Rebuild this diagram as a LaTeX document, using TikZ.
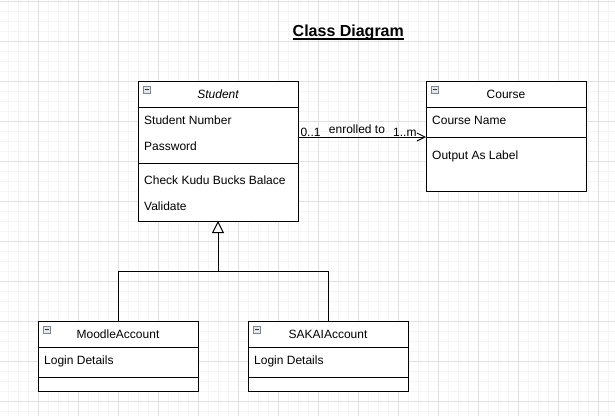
\documentclass[tikz,border=0pt]{standalone}
\usepackage{fontspec}
\setmainfont{Liberation Sans}
\usetikzlibrary{arrows.meta}

\definecolor{gridmajor}{HTML}{E0E0E0}
\definecolor{gridminor}{HTML}{F5F5F5}
\definecolor{iconedge}{HTML}{7D8791}
\definecolor{iconfill}{HTML}{E4E7EA}

\begin{document}
\begin{tikzpicture}[x=1pt, y=-1pt,
    classbox/.style={draw, line width=1pt, fill=white, anchor=north west,
      minimum width=160pt, inner sep=0pt, outer sep=0pt},
    classname/.style={font=\fontsize{12}{14}\selectfont, inner sep=0pt, anchor=base},
    member/.style={font=\fontsize{12}{14}\selectfont, inner sep=0pt, anchor=base west},
    mult/.style={font=\fontsize{12}{14}\selectfont, inner sep=0pt},
    collapse/.style={draw=iconedge, fill=iconfill, line width=0.6pt, minimum size=7pt,
      inner sep=0pt, anchor=north west,
      path picture={\draw[line width=1pt, black!80]
        ([xshift=1.5pt]path picture bounding box.west) --
        ([xshift=-1.5pt]path picture bounding box.east);}},
    divider/.style={line width=1pt},
    assoc/.style={line width=1pt, -{Straight Barb[length=8pt, width=8pt]}},
    inherit/.style={line width=1pt, -{Triangle[open, fill=white, length=12pt, width=12pt]}}]

  \newcommand\rowh{26pt}

  \useasboundingbox (0,0) rectangle (615,416);
  \fill[white] (0,0) rectangle (615,416);

  \foreach \gx in {8.3,18.3,...,610} \draw[gridminor, line width=0.8pt] (\gx,0) -- (\gx,416);
  \foreach \gy in {1.7,11.7,...,414} \draw[gridminor, line width=0.8pt] (0,\gy) -- (615,\gy);
  \foreach \gx in {38.3,78.3,...,610} \draw[gridmajor, line width=0.8pt] (\gx,0) -- (\gx,416);
  \foreach \gy in {1.7,41.7,...,414} \draw[gridmajor, line width=0.8pt] (0,\gy) -- (615,\gy);

  \node[font=\fontsize{16}{18}\selectfont\bfseries, inner sep=0pt, anchor=base] (title) at (348.3,36.7) {Class Diagram};
  \draw[line width=1.2pt] ([yshift=-2.2pt]title.base west) -- ([yshift=-2.2pt]title.base east);

  \node[classbox, minimum height=140pt] (student) at (138,81) {};
  \node[collapse] at ([shift={(5pt,-5pt)}]student.north west) {};
  \node[classname, font=\fontsize{12}{14}\selectfont\itshape] (studentname) at (218,98.5) {Student};
  \draw[divider] ([yshift=-\rowh]student.north west) -- ([yshift=-\rowh]student.north east);
  \node[member] (studentnumber) at (144,124.5) {Student Number};
  \node[member] (password) at (144,150.5) {Password};
  \draw[divider] ([yshift=-82pt]student.north west) -- ([yshift=-82pt]student.north east);
  \node[member] (checkbucks) at (144,184.5) {Check Kudu Bucks Balace};
  \node[member] (validate) at (144,210.5) {Validate};

  \node[classbox, minimum height=110pt] (course) at (426,81) {};
  \node[collapse] at ([shift={(5pt,-5pt)}]course.north west) {};
  \node[classname] (coursename) at (506,98.5) {Course};
  \draw[divider] ([yshift=-\rowh]course.north west) -- ([yshift=-\rowh]course.north east);
  \node[member] (coursetitle) at (432,124.5) {Course Name};
  \draw[divider] ([yshift=-56pt]course.north west) -- ([yshift=-56pt]course.north east);
  \node[member] (outputlabel) at (432,159) {Output As Label};

  \node[classbox, minimum height=70pt] (moodle) at (38,321) {};
  \node[collapse] at ([shift={(5pt,-5pt)}]moodle.north west) {};
  \node[classname] (moodlename) at (118,338.5) {MoodleAccount};
  \draw[divider] ([yshift=-\rowh]moodle.north west) -- ([yshift=-\rowh]moodle.north east);
  \node[member] (moodlelogin) at (44,364.5) {Login Details};
  \draw[divider] ([yshift=-56pt]moodle.north west) -- ([yshift=-56pt]moodle.north east);

  \node[classbox, minimum height=70pt] (sakai) at (248,321) {};
  \node[collapse] at ([shift={(5pt,-5pt)}]sakai.north west) {};
  \node[classname] (sakainame) at (328,338.5) {SAKAIAccount};
  \draw[divider] ([yshift=-\rowh]sakai.north west) -- ([yshift=-\rowh]sakai.north east);
  \node[member] (sakailogin) at (254,364.5) {Login Details};
  \draw[divider] ([yshift=-56pt]sakai.north west) -- ([yshift=-56pt]sakai.north east);

  \draw[assoc] ([yshift=-56pt]student.north east) --
    node[mult, pos=0, anchor=base west, xshift=2pt, yshift=1pt] {0..1}
    node[mult, anchor=base, xshift=-5pt, yshift=4pt] {enrolled to}
    node[mult, pos=1, anchor=base east, xshift=-9pt, yshift=1pt] {1..m}
    ([yshift=-56pt]course.north west);

  \coordinate (joint) at (218,271);
  \draw[inherit] (moodle.north) |- (joint) -- (student.south);
  \draw[line width=1pt] (sakai.north) |- (joint);

\end{tikzpicture}
\end{document}
